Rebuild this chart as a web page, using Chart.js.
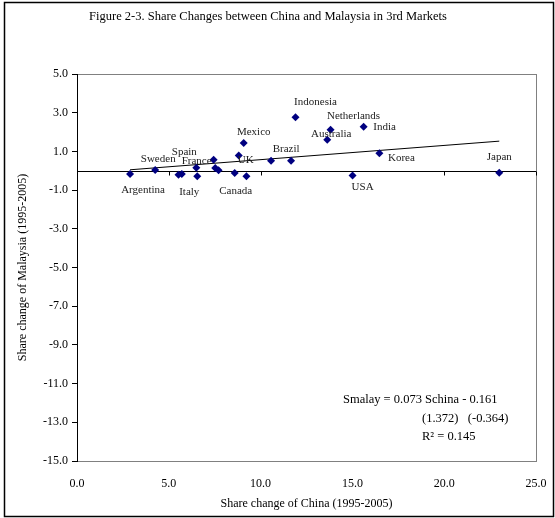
<!DOCTYPE html>
<html>
<head>
<meta charset="utf-8">
<script src="https://cdn.jsdelivr.net/npm/chart.js"></script>
<style>
  body { margin: 0; background: #fff; }
</style>
</head>
<body>
<canvas id="scatterChart" width="555" height="518"></canvas>
<script>

// share change of China / Malaysia, 1995-2005
let names = ['Argentina', 'Sweden', '', '', 'Spain', 'Italy', 'France', '', '', 'Canada', 'UK', 'Mexico', '', '',
  'Brazil', 'Indonesia', 'Australia', 'Netherlands', 'India', 'Korea', 'USA', 'Japan'];
let china = [2.89, 4.26, 5.53, 5.71, 6.50, 6.55, 7.44, 7.53, 7.71, 8.59, 8.81, 9.08, 9.23, 10.57,
  11.66, 11.90, 13.63, 13.81, 15.61, 16.47, 15.01, 23.00];
let malay = [-0.17, 0.04, -0.21, -0.17, 0.16, -0.29, 0.57, 0.14, 0.02, -0.12, 0.79, 1.43, -0.29, 0.52,
  0.52, 2.77, 1.60, 2.12, 2.27, 0.90, -0.24, -0.10];

// fitted line, read at its two ends
let trendX = [2.89, 23.0];
let trendY = [0.05, 1.53];

let xTicks = [0, 5, 10, 15, 20, 25];
let equation = ['Smalay = 0.073 Schina - 0.161', '(1.372)   (-0.364)', 'R\u00b2 = 0.145'];

// where each country name sits, in pixels from its marker
let labelOffsets = {
  Argentina: [13, 16], Sweden: [3, -11], Spain: [-12, -16], Italy: [-8, 16], France: [-17, 1],
  Canada: [1, 18], UK: [7, 5], Mexico: [10, -11], Brazil: [-5, -12], Indonesia: [20, -15],
  Australia: [4, -6], Netherlands: [23, -14], India: [21, 0], Korea: [22, 5], USA: [10, 12], Japan: [0, -16]
};

const SERIF = "'Liberation Serif', 'Times New Roman', serif";

let points = china.map(function (x, i) { return { x: x, y: malay[i] }; });
let trend = trendX.map(function (x, i) { return { x: x, y: trendY[i] }; });

const decor = {
  id: 'decor',
  beforeDraw: function (chart) {
    let ctx = chart.ctx, a = chart.chartArea;
    ctx.save();
    ctx.fillStyle = '#fff';
    ctx.fillRect(0, 0, chart.width, chart.height);
    ctx.strokeStyle = '#000';
    ctx.lineWidth = 1.5;
    ctx.strokeRect(4.5, 2.5, 549, 514);
    ctx.strokeStyle = '#808080';
    ctx.lineWidth = 1;
    ctx.strokeRect(Math.round(a.left) + 0.5, Math.round(a.top) + 0.5, Math.round(a.right - a.left), Math.round(a.bottom - a.top));
    ctx.restore();
  },
  beforeDatasetsDraw: function (chart) {
    // x axis crosses at zero
    let ctx = chart.ctx, a = chart.chartArea;
    let y0 = Math.round(chart.scales.y.getPixelForValue(0)) + 0.5;
    ctx.save();
    ctx.strokeStyle = '#000';
    ctx.lineWidth = 1;
    ctx.beginPath();
    ctx.moveTo(a.left, y0);
    ctx.lineTo(a.right, y0);
    xTicks.forEach(function (t) {
      let px = Math.round(chart.scales.x.getPixelForValue(t)) + 0.5;
      ctx.moveTo(px, y0);
      ctx.lineTo(px, y0 + 4);
    });
    ctx.stroke();
    ctx.restore();
  },
  afterDatasetsDraw: function (chart) {
    let ctx = chart.ctx;
    let meta = chart.getDatasetMeta(0);
    ctx.save();
    ctx.fillStyle = '#222';
    ctx.font = '11px ' + SERIF;
    ctx.textAlign = 'center';
    ctx.textBaseline = 'middle';
    names.forEach(function (n, i) {
      if (!n) return;
      let off = labelOffsets[n] || [0, -12];
      let el = meta.data[i];
      ctx.fillText(n, el.x + off[0], el.y + off[1]);
    });

    ctx.fillStyle = '#000';
    ctx.font = '12.5px ' + SERIF;
    ctx.textAlign = 'left';
    ctx.fillText(equation[0], 343, 400);
    ctx.fillText(equation[1], 422, 419);
    ctx.fillText(equation[2], 422, 437);
    ctx.restore();
  }
};

var ctx = document.getElementById('scatterChart').getContext('2d');
var chart = new Chart(ctx, {
  type: 'scatter',
  data: {
    datasets: [{
      data: points,
      pointStyle: 'rectRot',
      pointRadius: 4,
      backgroundColor: '#000080',
      borderColor: '#000080',
      borderWidth: 0
    }, {
      type: 'line',
      data: trend,
      borderColor: '#000',
      borderWidth: 1,
      pointRadius: 0,
      fill: false
    }]
  },
  options: {
    responsive: false,
    animation: false,
    layout: { padding: { left: 0, right: 19, top: 3, bottom: 0 } },
    plugins: {
      legend: { display: false },
      tooltip: { enabled: false },
      title: {
        display: true,
        text: 'Figure 2-3. Share Changes between China and Malaysia in 3rd Markets',
        color: '#000',
        font: { family: SERIF, size: 12.5, weight: 'normal' },
        padding: { top: 6, bottom: 50 }
      }
    },
    scales: {
      x: {
        type: 'linear',
        position: 'bottom',
        min: 0,
        max: 25,
        afterFit: function (s) { s.height = 57; s.paddingLeft = 0; s.paddingRight = 0; },
        ticks: {
          stepSize: 5,
          padding: 16,
          color: '#000',
          font: { family: SERIF, size: 12 },
          callback: function (v) { return v.toFixed(1); }
        },
        grid: { display: false, drawTicks: false },
        border: { color: '#808080' },
        title: {
          display: true,
          text: 'Share change of China (1995-2005)',
          color: '#000',
          font: { family: SERIF, size: 12 },
          padding: { top: 7, bottom: 7 }
        }
      },
      y: {
        min: -15,
        max: 5,
        afterFit: function (s) { s.width = 77; s.paddingTop = 0; s.paddingBottom = 0; },
        ticks: {
          stepSize: 2,
          padding: 4,
          color: '#000',
          font: { family: SERIF, size: 12 },
          callback: function (v) { return v.toFixed(1); }
        },
        grid: { drawOnChartArea: false, tickLength: 5, tickColor: '#000' },
        border: { color: '#000' },
        title: {
          display: true,
          text: 'Share change of Malaysia (1995-2005)',
          color: '#000',
          font: { family: SERIF, size: 12 },
          padding: { top: 16, bottom: 16 }
        }
      }
    }
  },
  plugins: [decor]
});

</script>
</body>
</html>
